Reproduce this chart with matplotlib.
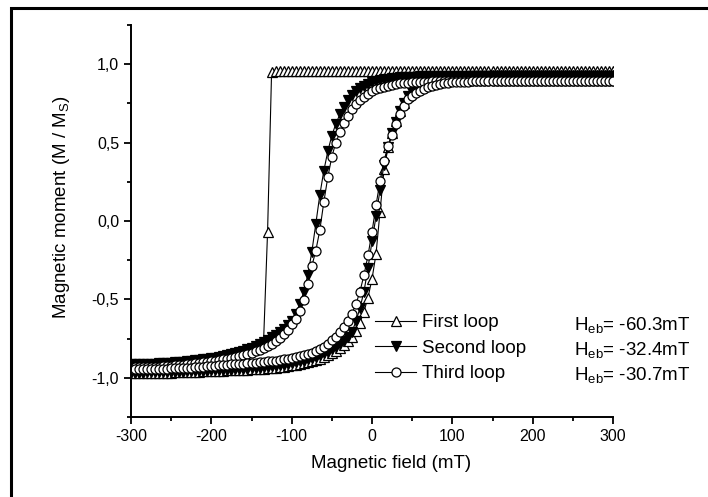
import numpy as np
import matplotlib
matplotlib.use("Agg")
import matplotlib.pyplot as plt
from matplotlib.patches import Rectangle
from matplotlib.ticker import FuncFormatter, MultipleLocator

plt.rcParams["font.family"] = ["Liberation Sans", "DejaVu Sans"]
plt.rcParams["mathtext.fontset"] = "custom"
plt.rcParams["mathtext.rm"] = "Liberation Sans"
plt.rcParams["mathtext.it"] = "Liberation Sans:italic"

# ── Field sweep (mT), 5 mT steps ───────────────────────────────────────────
FIELD = np.arange(-300, 305, 5)

# ── Normalised moment M/Ms for each branch, rows of 10 from -300 mT ────────
# first loop, descending branch
first_down = [
    -0.915, -0.914, -0.913, -0.912, -0.911, -0.910, -0.909, -0.908, -0.906, -0.905,
    -0.903, -0.901, -0.899, -0.897, -0.895, -0.892, -0.889, -0.886, -0.883, -0.879,
    -0.875, -0.871, -0.866, -0.861, -0.855, -0.849, -0.842, -0.834, -0.826, -0.817,
    -0.807, -0.796, -0.784, -0.771, -0.070, 0.950, 0.955, 0.956, 0.956, 0.956,
    0.956, 0.956, 0.956, 0.956, 0.956, 0.956, 0.956, 0.956, 0.956, 0.956,
    0.956, 0.956, 0.956, 0.956, 0.956, 0.956, 0.956, 0.956, 0.956, 0.956,
    0.956, 0.956, 0.956, 0.956, 0.956, 0.956, 0.956, 0.956, 0.956, 0.956,
    0.955, 0.955, 0.955, 0.955, 0.955, 0.955, 0.955, 0.955, 0.955, 0.955,
    0.955, 0.955, 0.955, 0.955, 0.955, 0.955, 0.955, 0.955, 0.955, 0.955,
    0.955, 0.955, 0.955, 0.955, 0.955, 0.955, 0.955, 0.955, 0.955, 0.955,
    0.954, 0.954, 0.954, 0.954, 0.954, 0.954, 0.954, 0.954, 0.954, 0.954,
    0.954, 0.954, 0.954, 0.954, 0.954, 0.954, 0.954, 0.954, 0.954, 0.954,
    0.954,
]
# first loop, ascending branch
first_up = [
    -0.972, -0.972, -0.971, -0.971, -0.970, -0.970, -0.969, -0.969, -0.968, -0.967,
    -0.967, -0.966, -0.965, -0.964, -0.963, -0.962, -0.961, -0.960, -0.959, -0.958,
    -0.957, -0.956, -0.955, -0.954, -0.953, -0.952, -0.951, -0.950, -0.949, -0.948,
    -0.947, -0.945, -0.943, -0.941, -0.939, -0.937, -0.935, -0.932, -0.929, -0.925,
    -0.921, -0.917, -0.912, -0.907, -0.901, -0.894, -0.886, -0.877, -0.867, -0.856,
    -0.844, -0.830, -0.813, -0.793, -0.768, -0.738, -0.700, -0.648, -0.578, -0.488,
    -0.370, -0.210, 0.060, 0.330, 0.470, 0.560, 0.635, 0.700, 0.755, 0.795,
    0.825, 0.850, 0.868, 0.882, 0.892, 0.900, 0.906, 0.911, 0.915, 0.918,
    0.920, 0.922, 0.923, 0.924, 0.925, 0.926, 0.926, 0.927, 0.927, 0.927,
    0.928, 0.928, 0.928, 0.928, 0.928, 0.928, 0.928, 0.928, 0.928, 0.928,
    0.928, 0.928, 0.928, 0.928, 0.928, 0.928, 0.928, 0.928, 0.928, 0.928,
    0.929, 0.929, 0.929, 0.929, 0.929, 0.929, 0.929, 0.929, 0.929, 0.929,
    0.929,
]
# second loop, descending branch
second_down = [
    -0.915, -0.914, -0.913, -0.912, -0.911, -0.910, -0.909, -0.908, -0.906, -0.905,
    -0.903, -0.901, -0.899, -0.897, -0.895, -0.892, -0.889, -0.886, -0.883, -0.879,
    -0.875, -0.871, -0.866, -0.861, -0.855, -0.849, -0.842, -0.834, -0.826, -0.817,
    -0.807, -0.796, -0.784, -0.771, -0.757, -0.742, -0.726, -0.708, -0.688, -0.665,
    -0.635, -0.592, -0.532, -0.452, -0.345, -0.200, -0.020, 0.165, 0.320, 0.445,
    0.545, 0.620, 0.680, 0.730, 0.770, 0.803, 0.828, 0.848, 0.863, 0.875,
    0.885, 0.893, 0.899, 0.904, 0.908, 0.911, 0.914, 0.916, 0.918, 0.919,
    0.920, 0.921, 0.922, 0.922, 0.923, 0.923, 0.923, 0.923, 0.923, 0.923,
    0.923, 0.923, 0.923, 0.923, 0.923, 0.924, 0.924, 0.924, 0.924, 0.924,
    0.924, 0.924, 0.924, 0.924, 0.924, 0.924, 0.924, 0.924, 0.924, 0.924,
    0.924, 0.924, 0.924, 0.924, 0.924, 0.924, 0.924, 0.924, 0.924, 0.924,
    0.925, 0.925, 0.925, 0.925, 0.925, 0.925, 0.925, 0.925, 0.925, 0.925,
    0.925,
]
# second loop, ascending branch
second_up = [
    -0.968, -0.968, -0.967, -0.967, -0.966, -0.966, -0.965, -0.965, -0.964, -0.963,
    -0.963, -0.962, -0.961, -0.960, -0.959, -0.958, -0.957, -0.956, -0.955, -0.954,
    -0.953, -0.952, -0.951, -0.950, -0.949, -0.948, -0.946, -0.945, -0.943, -0.941,
    -0.939, -0.937, -0.935, -0.933, -0.930, -0.927, -0.924, -0.920, -0.916, -0.912,
    -0.907, -0.902, -0.896, -0.890, -0.883, -0.875, -0.866, -0.856, -0.845, -0.833,
    -0.819, -0.803, -0.785, -0.764, -0.739, -0.708, -0.640, -0.555, -0.450, -0.300,
    -0.130, 0.030, 0.200, 0.360, 0.470, 0.560, 0.630, 0.700, 0.755, 0.795,
    0.825, 0.848, 0.865, 0.878, 0.888, 0.896, 0.902, 0.907, 0.911, 0.914,
    0.916, 0.918, 0.919, 0.920, 0.921, 0.922, 0.922, 0.923, 0.923, 0.923,
    0.924, 0.924, 0.924, 0.924, 0.924, 0.924, 0.924, 0.924, 0.924, 0.924,
    0.924, 0.924, 0.924, 0.924, 0.924, 0.924, 0.924, 0.924, 0.924, 0.924,
    0.925, 0.925, 0.925, 0.925, 0.925, 0.925, 0.925, 0.925, 0.925, 0.925,
    0.925,
]
# third loop, descending branch
third_down = [
    -0.935, -0.934, -0.933, -0.932, -0.931, -0.930, -0.929, -0.928, -0.926, -0.924,
    -0.922, -0.920, -0.918, -0.916, -0.913, -0.910, -0.907, -0.904, -0.901, -0.898,
    -0.895, -0.891, -0.887, -0.883, -0.878, -0.873, -0.867, -0.861, -0.855, -0.848,
    -0.840, -0.831, -0.821, -0.810, -0.797, -0.782, -0.765, -0.745, -0.722, -0.695,
    -0.660, -0.625, -0.575, -0.505, -0.400, -0.290, -0.190, -0.060, 0.120, 0.280,
    0.410, 0.500, 0.565, 0.625, 0.670, 0.712, 0.745, 0.772, 0.794, 0.812,
    0.827, 0.839, 0.849, 0.857, 0.864, 0.869, 0.873, 0.877, 0.880, 0.882,
    0.884, 0.886, 0.887, 0.888, 0.889, 0.890, 0.890, 0.890, 0.890, 0.890,
    0.890, 0.890, 0.890, 0.890, 0.890, 0.891, 0.891, 0.891, 0.891, 0.891,
    0.891, 0.891, 0.891, 0.891, 0.891, 0.891, 0.891, 0.891, 0.891, 0.891,
    0.892, 0.892, 0.892, 0.892, 0.892, 0.892, 0.892, 0.892, 0.892, 0.892,
    0.892, 0.892, 0.892, 0.892, 0.892, 0.892, 0.892, 0.892, 0.892, 0.892,
    0.892,
]
# third loop, ascending branch
third_up = [
    -0.946, -0.946, -0.945, -0.945, -0.944, -0.944, -0.943, -0.943, -0.942, -0.941,
    -0.940, -0.939, -0.938, -0.937, -0.936, -0.935, -0.933, -0.931, -0.929, -0.927,
    -0.925, -0.923, -0.921, -0.919, -0.917, -0.915, -0.913, -0.911, -0.909, -0.907,
    -0.905, -0.903, -0.901, -0.899, -0.896, -0.893, -0.890, -0.887, -0.883, -0.879,
    -0.875, -0.870, -0.864, -0.857, -0.849, -0.840, -0.829, -0.816, -0.801, -0.783,
    -0.762, -0.737, -0.708, -0.675, -0.636, -0.590, -0.530, -0.450, -0.345, -0.220,
    -0.070, 0.100, 0.255, 0.385, 0.480, 0.550, 0.620, 0.685, 0.735, 0.775,
    0.800, 0.818, 0.832, 0.845, 0.855, 0.863, 0.869, 0.874, 0.878, 0.881,
    0.884, 0.886, 0.887, 0.888, 0.889, 0.890, 0.890, 0.890, 0.891, 0.891,
    0.891, 0.891, 0.891, 0.891, 0.891, 0.891, 0.891, 0.891, 0.891, 0.891,
    0.892, 0.892, 0.892, 0.892, 0.892, 0.892, 0.892, 0.892, 0.892, 0.892,
    0.892, 0.892, 0.892, 0.892, 0.892, 0.892, 0.892, 0.892, 0.892, 0.892,
    0.892,
]

LOOP_NAMES = ["First loop", "Second loop", "Third loop"]
H_EB = ["-60.3", "-32.4", "-30.7"]

# ── Figure ─────────────────────────────────────────────────────────────────
fig = plt.figure(figsize=(7.08, 4.97), dpi=100)
fig.patches.append(Rectangle((11 / 708, -0.2), 1.2, 1.2 - 8 / 497,
                             transform=fig.transFigure, fill=False,
                             lw=2.2, ec="black"))

ax = fig.add_axes([131 / 708, 1 - 417 / 497, 482 / 708, 392 / 497])

style = dict(color="black", lw=0.8, ms=6.5, mew=0.9, mec="black")
loops = [
    (first_down, first_up, dict(marker="^", mfc="white")),
    (second_down, second_up, dict(marker="v", mfc="black")),
    (third_down, third_up, dict(marker="o", mfc="white")),
]
handles = []
for (down, up, mk), name in zip(loops, LOOP_NAMES):
    h, = ax.plot(FIELD, down, label=name, **style, **mk)
    ax.plot(FIELD, up, **style, **mk)
    handles.append(h)

ax.set_xlim(-300, 300)
ax.set_ylim(-1.25, 1.25)
ax.xaxis.set_major_locator(MultipleLocator(100))
ax.xaxis.set_minor_locator(MultipleLocator(50))
ax.yaxis.set_major_locator(MultipleLocator(0.5))
ax.yaxis.set_minor_locator(MultipleLocator(0.25))
ax.yaxis.set_major_formatter(FuncFormatter(lambda v, p: f"{v:.1f}".replace(".", ",")))
ax.xaxis.set_major_formatter(FuncFormatter(lambda v, p: f"{v:.0f}"))

for side in ["top", "right"]:
    ax.spines[side].set_visible(False)
for side in ["left", "bottom"]:
    ax.spines[side].set_linewidth(1.4)
ax.tick_params(which="major", direction="out", length=5, width=1.3,
               labelsize=11.5, pad=3.5)
ax.tick_params(which="minor", direction="out", length=3, width=1.3)

ax.set_xlabel("Magnetic field (mT)", fontsize=13.5)
ax.set_ylabel(r"Magnetic moment (M / M$_{\mathrm{S}}$)", fontsize=13.5)
ax.xaxis.set_label_coords(0.539, -0.097)
ax.yaxis.set_label_coords(-0.122, 0.536)

ax.legend(handles=handles, loc="upper left", bbox_to_anchor=(0.506, 0.262),
          frameon=False, fontsize=13.5, handlelength=2.2, handletextpad=0.32,
          labelspacing=0.44, borderpad=0, borderaxespad=0)

for i, val in enumerate(H_EB):
    ax.text(0.919, 0.222 - i * 0.064, r"H$_{\mathrm{eb}}$= " + val + "mT",
            transform=ax.transAxes, fontsize=13.5, va="baseline", ha="left")

fig.savefig("out.png", dpi=100)
